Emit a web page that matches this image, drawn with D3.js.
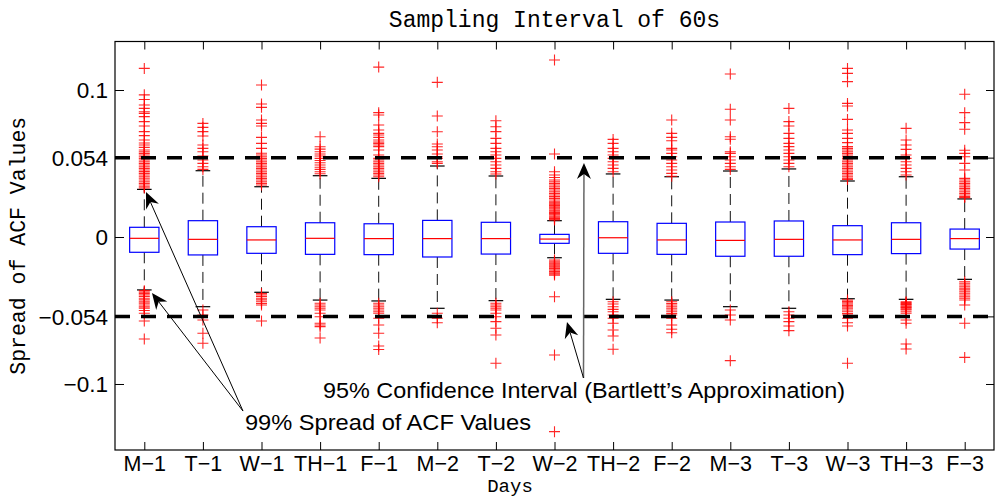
<!DOCTYPE html>
<html><head><meta charset="utf-8">
<script src="https://cdn.jsdelivr.net/npm/d3@7/dist/d3.min.js"></script>
<style>body{margin:0;background:#fff}svg{display:block}</style>
</head><body><svg id="c" width="996" height="497"></svg>
<script>
// ---------------- data ----------------
const categories = ["M−1","T−1","W−1","TH−1","F−1","M−2","T−2","W−2","TH−2","F−2","M−3","T−3","W−3","TH−3","F−3"];
const q3      = [0.0066, 0.0111, 0.0070, 0.0097, 0.0090, 0.0113, 0.0100, 0.0018, 0.0104, 0.0093, 0.0102, 0.0109, 0.0077, 0.0097, 0.0054];
const medians = [-0.0009,-0.0016,-0.0020,-0.0009,-0.0011,-0.0011,-0.0011,-0.0014,-0.0005,-0.0020,-0.0023,-0.0016,-0.0020,-0.0016,-0.0011];
const q1      = [-0.0104,-0.0122,-0.0111,-0.0118,-0.0120,-0.0136,-0.0116,-0.0043,-0.0111,-0.0118,-0.0131,-0.0131,-0.0120,-0.0113,-0.0082];
const whiskerHigh = [0.0324, 0.0451, 0.0342, 0.0417, 0.0399, 0.0483, 0.0415, 0.0111, 0.0429, 0.0410, 0.0449, 0.0463, 0.0381, 0.0410, 0.0259];
const whiskerLow  = [-0.0360,-0.0474,-0.0376,-0.0429,-0.0435,-0.0485,-0.0433,-0.0141,-0.0424,-0.0429,-0.0474,-0.0485,-0.0420,-0.0424,-0.0288];
const outliersHigh = [
  [0.1147,0.0967,0.0935,0.0898,0.0875,0.0852,0.0841,0.0819,0.0785,0.0755,0.0717,0.069,0.066,0.064,0.0626,0.061,0.0592,0.058,0.0569,0.0558,0.0546,0.0535,0.0524,0.0512,0.0501,0.049,0.0478,0.0467,0.0456,0.0445,0.0433,0.0422,0.041,0.04,0.0388,0.0376,0.0365,0.0354,0.0342,0.0333],
  [0.0773,0.0746,0.0717,0.0687,0.0626,0.0603,0.058,0.0551,0.0524,0.0501,0.0478,0.046],
  [0.1034,0.0905,0.0882,0.0796,0.0773,0.0755,0.0678,0.0637,0.0603,0.057,0.0558,0.0546,0.0535,0.0524,0.0512,0.0501,0.049,0.0478,0.0467,0.0456,0.0444,0.0433,0.0422,0.041,0.0399,0.0388,0.0376,0.0365,0.0354],
  [0.0682,0.0614,0.0598,0.058,0.0565,0.0551,0.0535,0.052,0.0505,0.049,0.0475,0.046,0.0444,0.043],
  [0.1156,0.0846,0.083,0.0762,0.0728,0.0705,0.0694,0.0678,0.066,0.0646,0.0637,0.0626,0.0615,0.0592,0.0558,0.0535,0.0524,0.0512,0.0501,0.049,0.0478,0.0467,0.0456,0.0444,0.0433,0.0422,0.041],
  [0.1052,0.0823,0.0716,0.0633,0.0614,0.0592,0.0565,0.0546,0.0535,0.0512,0.0501],
  [0.0791,0.075,0.0717,0.0671,0.0637,0.0603,0.058,0.0558,0.0535,0.0512,0.049,0.0467,0.0444,0.0429],
  [0.1204,0.0565,0.0444,0.0422,0.0405,0.0388,0.0376,0.0365,0.0354,0.0342,0.0331,0.032,0.0308,0.0297,0.0286,0.0275,0.0263,0.0252,0.024,0.0232,0.0224,0.0215,0.0206,0.0198,0.019,0.0182,0.0175,0.0167,0.0159,0.0151,0.0143,0.0135,0.0127,0.0121,0.0116],
  [0.0664,0.0637,0.0603,0.058,0.0558,0.0535,0.0512,0.049,0.0467,0.0444],
  [0.0796,0.0705,0.0678,0.0655,0.0603,0.0592,0.0569,0.0546,0.0524,0.0501,0.0478,0.0456,0.0433,0.0413],
  [0.1109,0.0869,0.0796,0.0682,0.0665,0.058,0.0569,0.0546,0.0524,0.0501,0.0478,0.046],
  [0.0875,0.0785,0.0755,0.0705,0.0671,0.0637,0.0615,0.0592,0.0569,0.0546,0.0524,0.0501,0.0478],
  [0.1147,0.1113,0.1057,0.0909,0.0891,0.08,0.0728,0.0705,0.0671,0.0642,0.0615,0.0603,0.0592,0.058,0.0569,0.0558,0.0546,0.0535,0.0524,0.0512,0.0501,0.049,0.0478,0.0467,0.0456,0.0444,0.0433,0.0422,0.041,0.04,0.0392],
  [0.0739,0.066,0.0626,0.0596,0.0558,0.0535,0.0512,0.049,0.0467,0.0444,0.0422],
  [0.0971,0.0846,0.0778,0.0733,0.059,0.0569,0.0546,0.0501,0.0456,0.0399,0.0388,0.0376,0.0365,0.0354,0.0342,0.0331,0.032,0.0308,0.0297,0.0286,0.0275,0.0268]
];
const outliersLow = [
  [-0.0365,-0.0375,-0.0385,-0.0395,-0.0405,-0.0417,-0.0428,-0.044,-0.045,-0.0463,-0.0475,-0.0485,-0.05,-0.0519,-0.0571,-0.0694],
  [-0.0497,-0.0531,-0.0565,-0.0655,-0.0723],
  [-0.0385,-0.0395,-0.0405,-0.0417,-0.0428,-0.044,-0.0452,-0.0463,-0.0571],
  [-0.0451,-0.0463,-0.0474,-0.0485,-0.0497,-0.0519,-0.0542,-0.0587,-0.0599,-0.061,-0.0687],
  [-0.0451,-0.0463,-0.0474,-0.0485,-0.0497,-0.0508,-0.0519,-0.0553,-0.0599,-0.0655,-0.0741,-0.0765],
  [-0.0519,-0.0553,-0.0583],
  [-0.0451,-0.0463,-0.0474,-0.0485,-0.0497,-0.0519,-0.0542,-0.0576,-0.0621,-0.0667,-0.0859],
  [-0.0156,-0.0165,-0.0175,-0.0183,-0.019,-0.0198,-0.0206,-0.0215,-0.0224,-0.0234,-0.0243,-0.0251,-0.0259,-0.0406,-0.0803,-0.1324],
  [-0.044,-0.0456,-0.0474,-0.0492,-0.0508,-0.0531,-0.0553,-0.0587,-0.0633,-0.0673,-0.0764],
  [-0.044,-0.0452,-0.0463,-0.0474,-0.0485,-0.0497,-0.0508,-0.052,-0.0531,-0.0553,-0.0599,-0.0628,-0.0651],
  [-0.0497,-0.0531,-0.0565,-0.0841],
  [-0.0508,-0.0531,-0.0553,-0.0576,-0.0605,-0.0637],
  [-0.0429,-0.0438,-0.0447,-0.0456,-0.0465,-0.0475,-0.0485,-0.0497,-0.0508,-0.052,-0.0531,-0.0553,-0.0583,-0.0605,-0.0859],
  [-0.044,-0.0446,-0.0452,-0.0458,-0.0463,-0.0469,-0.0474,-0.048,-0.0485,-0.0491,-0.0497,-0.0508,-0.0519,-0.0565,-0.0587,-0.0728,-0.0762],
  [-0.0304,-0.0315,-0.0327,-0.0338,-0.0349,-0.036,-0.0372,-0.0383,-0.0395,-0.0406,-0.0417,-0.0429,-0.0463,-0.0587,-0.0819]
];
const yTickValues = [-0.1, -0.054, 0, 0.054, 0.1];
const yTickLabels = ["−0.1", "−0.054", "0", "0.054", "0.1"];
const confidenceLimits = [0.054, -0.054];
const titleText = "Sampling Interval of 60s";
const xLabelText = "Days";
const yLabelText = "Spread of ACF Values";
const spreadNote = "99% Spread of ACF Values";
const confNote = "95% Confidence Interval (Bartlett’s Approximation)";

// ---------------- layout ----------------
const svg = d3.select("#c");
const m = {left:115, right:994, top:41.5, bottom:450};
const x = d3.scaleLinear().domain([0.5, categories.length + 0.5]).range([m.left, m.right]);
const y = d3.scaleLinear().domain([-0.1449, 0.133]).range([m.bottom, m.top]);
const idx = categories.map((c,i)=>i+1);
const helv = "'Liberation Sans', Arial, Helvetica, sans-serif";
const mono = "'Liberation Mono', 'Courier New', Courier, monospace";

// axes
const gL = svg.append("g").attr("transform",`translate(${m.left},0)`)
  .call(d3.axisLeft(y).tickValues(yTickValues).tickFormat((d,i)=>yTickLabels[i]).tickSize(-9).tickPadding(7));
const gR = svg.append("g").attr("transform",`translate(${m.right},0)`)
  .call(d3.axisRight(y).tickValues(yTickValues).tickFormat("").tickSize(-8));
const gB = svg.append("g").attr("transform",`translate(0,${m.bottom})`)
  .call(d3.axisBottom(x).tickValues(idx).tickFormat((d,i)=>categories[i]).tickSize(-8).tickPadding(6));
const gT = svg.append("g").attr("transform",`translate(0,${m.top})`)
  .call(d3.axisTop(x).tickValues(idx).tickFormat("").tickSize(-8));
[gL,gR,gB,gT].forEach(g=>{
  g.select(".domain").remove();
  g.selectAll(".tick line").attr("stroke","#000").attr("stroke-width",1);
  g.selectAll("text").attr("font-family",helv).attr("font-size",21.5).attr("fill","#000");
});
gL.selectAll("text").attr("font-size",22.5).attr("dy","0.35em");
svg.append("rect").attr("x",m.left).attr("y",m.top).attr("width",m.right-m.left).attr("height",m.bottom-m.top)
  .attr("fill","none").attr("stroke","#000").attr("stroke-width",1.2);

// boxes
const plot = svg.append("g");
const bw = 0.25, cw = 0.125;
idx.forEach((c,i)=>{
  const g = plot.append("g");
  g.append("line").attr("x1",x(c)).attr("x2",x(c)).attr("y1",y(q3[i])).attr("y2",y(whiskerHigh[i]))
    .attr("stroke","#111").attr("stroke-width",1).attr("stroke-dasharray","11,6");
  g.append("line").attr("x1",x(c)).attr("x2",x(c)).attr("y1",y(q1[i])).attr("y2",y(whiskerLow[i]))
    .attr("stroke","#111").attr("stroke-width",1).attr("stroke-dasharray","11,6");
  [whiskerHigh[i], whiskerLow[i]].forEach(v=>{
    g.append("line").attr("x1",x(c-cw)).attr("x2",x(c+cw)).attr("y1",y(v)).attr("y2",y(v))
      .attr("stroke","#000").attr("stroke-width",1.2);
  });
  g.append("rect").attr("x",x(c-bw)).attr("y",y(q3[i])).attr("width",x(c+bw)-x(c-bw)).attr("height",y(q1[i])-y(q3[i]))
    .attr("fill","none").attr("stroke","#0000ff").attr("stroke-width",1.2);
  g.append("line").attr("x1",x(c-bw)).attr("x2",x(c+bw)).attr("y1",y(medians[i])).attr("y2",y(medians[i]))
    .attr("stroke","#ff0000").attr("stroke-width",1.2);
  outliersHigh[i].concat(outliersLow[i]).forEach(v=>{
    g.append("path").attr("d","M-5.5,0H5.5M0,-5.5V5.5")
      .attr("transform",`translate(${x(c)},${y(v)})`)
      .attr("stroke","#ff0000").attr("stroke-opacity",0.85).attr("stroke-width",1.1).attr("fill","none");
  });
});

// confidence lines
confidenceLimits.forEach(v=>{
  svg.append("line").attr("x1",m.left).attr("x2",m.right).attr("y1",y(v)).attr("y2",y(v))
    .attr("stroke","#000").attr("stroke-width",3.5).attr("stroke-dasharray","15,11");
});

// annotations (data-space anchors)
function arrow(fx,fy,tx,ty,color,w){
  const x0=x(fx),y0=y(fy),x1=x(tx),y1=y(ty);
  const dx=x1-x0, dy=y1-y0, len=Math.hypot(dx,dy), ux=dx/len, uy=dy/len;
  const L=16, hw=7, notch=5;
  svg.append("line").attr("x1",x0).attr("y1",y0).attr("x2",x1-ux*(L-notch)).attr("y2",y1-uy*(L-notch))
    .attr("stroke",color).attr("stroke-width",w);
  const bx=x1-ux*L, by=y1-uy*L, nx=-uy, ny=ux;
  const pts=[[x1,y1],[bx+nx*hw,by+ny*hw],[x1-ux*(L-notch),y1-uy*(L-notch)],[bx-nx*hw,by-ny*hw]];
  svg.append("path").attr("d","M"+pts.map(p=>p.join(",")).join("L")+"Z").attr("fill","#000");
}
arrow(2.684,-0.1184, 1.029, 0.0306, "#000", 1);
arrow(2.684,-0.1184, 1.131,-0.0381, "#000", 1);
arrow(8.495,-0.0959, 8.503, 0.0503, "#666", 1.5);
arrow(8.495,-0.0959, 8.213,-0.0578, "#000", 1);

svg.append("text").attr("x",x(4.049)).attr("y",y(-0.1095)).text(confNote)
  .attr("font-family",helv).attr("font-size",22).attr("fill","#000")
  .attr("textLength",522).attr("lengthAdjust","spacingAndGlyphs");
svg.append("text").attr("x",x(2.718)).attr("y",y(-0.1313)).text(spreadNote)
  .attr("font-family",helv).attr("font-size",22).attr("fill","#000")
  .attr("textLength",286).attr("lengthAdjust","spacingAndGlyphs");

// titles
svg.append("text").attr("x",(m.left+m.right)/2).attr("y",27).attr("text-anchor","middle")
  .attr("font-family",mono).attr("font-size",23).attr("fill","#000").text(titleText);
svg.append("text").attr("x",510).attr("y",492).attr("text-anchor","middle")
  .attr("font-family",mono).attr("font-size",19).attr("fill","#000").text(xLabelText);
svg.append("text").attr("transform",`translate(25,${(m.top+m.bottom)/2}) rotate(-90)`).attr("text-anchor","middle")
  .attr("font-family",mono).attr("font-size",21.5).attr("fill","#000").text(yLabelText);
</script></body></html>
